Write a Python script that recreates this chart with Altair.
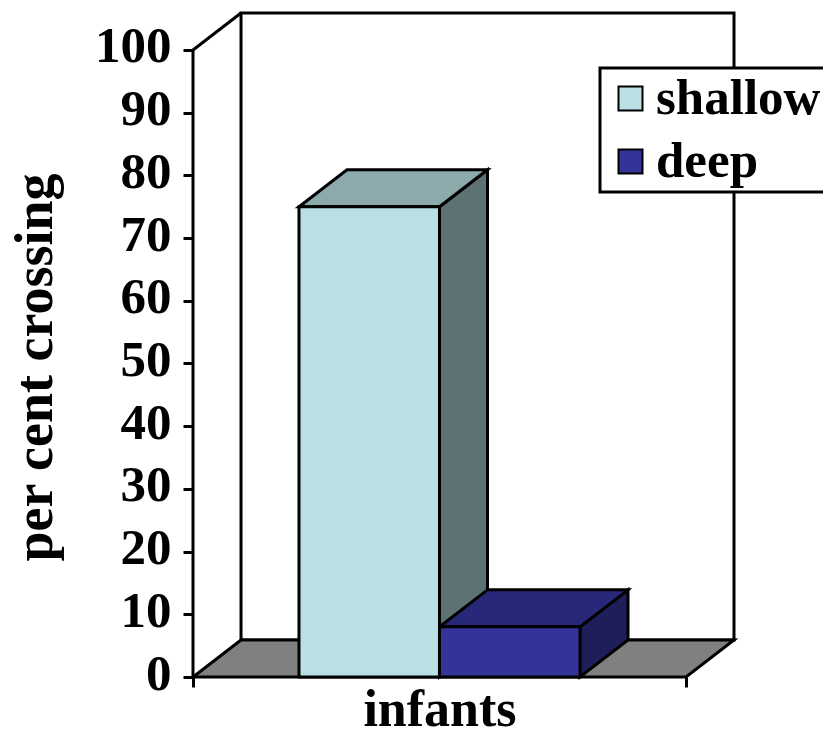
import altair as alt
import pandas as pd

# ---- data ----
series = ["shallow", "deep"]
values = [75, 8]
group_label = "infants"
y_title = "per cent crossing"
y_ticks = [0, 10, 20, 30, 40, 50, 60, 70, 80, 90, 100]

# ---- styles ----
front_colors = ["#BBE0E3", "#333399"]
top_colors = ["#8CA9AB", "#28287A"]
side_colors = ["#5E7273", "#1E1E5A"]
floor_color = "#808080"
FONT = "Liberation Serif"
SW = 3

# ---- 3-D layout constants (data units) ----
BAR_W = 0.285          # bar width as a fraction of the floor width
DX = 0.0974            # depth offset, x units
DY = 5.9               # depth offset, y units
Y_MAX = y_ticks[-1]
Y_TOP = Y_MAX + DY
X_TOP = 1 + DX
UNIT_PX = 493
PLOT_W = round(UNIT_PX * X_TOP)
PLOT_H = 664

x_scale = alt.Scale(domain=[0, X_TOP], nice=False, zero=False)
y_scale = alt.Scale(domain=[0, Y_TOP], nice=False, zero=False)

n = len(series)
start = 0.5 - BAR_W * n / 2
front_rows, top_rows, side_rows = [], [], []
for i, (s, v) in enumerate(zip(series, values)):
    x0 = start + i * BAR_W
    x1 = x0 + BAR_W
    front_rows.append(dict(series=s, x0=x0, x1=x1, v=v, y0=0))
    top_rows += [dict(series=s, fill=top_colors[i], y=v, xa=x0, xb=x1),
                 dict(series=s, fill=top_colors[i], y=v + DY, xa=x0 + DX, xb=x1 + DX)]
    side_rows += [dict(series=s, fill=side_colors[i], x=x1, yt=v, yb=0),
                  dict(series=s, fill=side_colors[i], x=x1 + DX, yt=v + DY, yb=DY)]

front_df = pd.DataFrame(front_rows)
top_df = pd.DataFrame(top_rows)
side_df = pd.DataFrame(side_rows)
wall_df = pd.DataFrame([dict(x0=DX, x1=X_TOP, y0=DY, y1=Y_TOP)])
floor_df = pd.DataFrame([dict(k="floor", y=0, xa=0, xb=1), dict(k="floor", y=DY, xa=DX, xb=X_TOP)])
diag_df = pd.DataFrame([dict(x0=0, x1=DX, y0=Y_MAX, y1=Y_TOP)])
yline_df = pd.DataFrame([dict(x0=0, y0=0, y1=Y_MAX)])

x_axis = alt.Axis(orient="bottom", values=[0, 1], tickSize=10, tickWidth=SW, tickColor="black",
                  labels=False, domain=False, grid=False, title=group_label, titleFont=FONT,
                  titleFontSize=52, titleFontWeight="bold", titleColor="black",
                  titleX=UNIT_PX / 2, titleY=48, titleAlign="center", titleBaseline="alphabetic")
y_axis = alt.Axis(orient="left", values=y_ticks, tickSize=10, tickWidth=SW, tickColor="black",
                  domain=False, grid=False, labelFont=FONT, labelFontSize=51,
                  labelFontWeight="bold", labelColor="black", labelPadding=12, labelOffset=-3,
                  labelFlush=False, labelOverlap=False, title=y_title, titleFont=FONT,
                  titleFontSize=54, titleFontWeight="bold", titleColor="black", titleAngle=270,
                  titleX=-142, titleY=354, titleAlign="center", titleBaseline="alphabetic")


def X(field, **kw):
    return alt.X(field, scale=x_scale, axis=x_axis, **kw)


def Y(field, **kw):
    return alt.Y(field, scale=y_scale, axis=y_axis, **kw)


wall = alt.Chart(wall_df).mark_rect(fill="white", stroke="black", strokeWidth=SW).encode(
    x=X("x0:Q"), x2="x1:Q", y=Y("y0:Q"), y2="y1:Q")

floor = alt.Chart(floor_df).mark_area(orient="horizontal", fill=floor_color, stroke="black",
                                      strokeWidth=SW, opacity=1).encode(
    y=Y("y:Q"), x=X("xa:Q", stack=None), x2="xb:Q")

diag = alt.Chart(diag_df).mark_rule(stroke="black", strokeWidth=SW).encode(
    x=X("x0:Q"), x2="x1:Q", y=Y("y0:Q"), y2="y1:Q")

yline = alt.Chart(yline_df).mark_rule(stroke="black", strokeWidth=SW).encode(
    x=X("x0:Q"), y=Y("y0:Q"), y2="y1:Q")

side = alt.Chart(side_df).mark_area(orient="vertical", stroke="black", strokeWidth=SW,
                                    opacity=1).encode(
    x=X("x:Q"), y=Y("yt:Q", stack=None), y2="yb:Q",
    fill=alt.Fill("fill:N", scale=None), detail="series:N")

top = alt.Chart(top_df).mark_area(orient="horizontal", stroke="black", strokeWidth=SW,
                                  opacity=1).encode(
    y=Y("y:Q"), x=X("xa:Q", stack=None), x2="xb:Q",
    fill=alt.Fill("fill:N", scale=None), detail="series:N")

legend = alt.Legend(title=None, orient="none", legendX=407, legendY=55, direction="vertical",
                    symbolType="square", symbolSize=576, symbolStrokeColor="black",
                    symbolStrokeWidth=2, symbolOffset=0, labelFont=FONT, labelFontSize=51,
                    labelFontWeight="bold", labelColor="black", labelOffset=0, labelLimit=400,
                    padding=5, rowPadding=11, strokeColor="black", fillColor="white")

front = alt.Chart(front_df).mark_rect(stroke="black", strokeWidth=SW, opacity=1).encode(
    x=X("x0:Q"), x2="x1:Q", y=Y("y0:Q"), y2="v:Q",
    color=alt.Color("series:N", scale=alt.Scale(domain=series, range=front_colors),
                    legend=legend, sort=series))

chart = alt.layer(wall, floor, diag, yline, side, top, front).properties(
    width=PLOT_W, height=PLOT_H,
    autosize=alt.AutoSizeParams(type="none"),
    padding={"left": 185, "top": 5, "right": 89, "bottom": 50},
).configure(font=FONT).configure_view(stroke="transparent").configure_legend(strokeWidth=SW)

chart.save("out.html", embed_options={"renderer": "svg", "actions": False})
